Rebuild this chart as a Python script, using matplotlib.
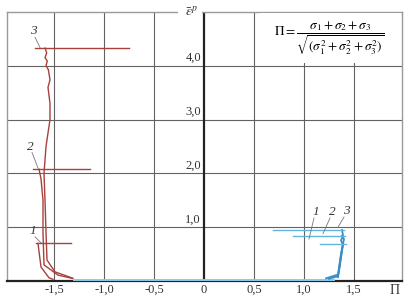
import matplotlib
matplotlib.use("Agg")
import matplotlib.pyplot as plt
from matplotlib.patches import Rectangle

plt.rcParams["font.family"] = ["Liberation Serif", "DejaVu Serif"]
plt.rcParams["mathtext.fontset"] = "stix"

# --- data ------------------------------------------------------------------
# compression branch (red), loading paths then unloading segment
red_1_x = [-1.51, -1.55, -1.63, -1.65, -1.66]
red_1_y = [0.03, 0.06, 0.26, 0.55, 0.70]
red_2_x = [-1.32, -1.46, -1.60, -1.61, -1.61, -1.63, -1.65]
red_2_y = [0.05, 0.11, 0.30, 0.90, 1.50, 1.90, 2.08]
red_3_x = [-1.31, -1.49, -1.57, -1.58, -1.59, -1.60, -1.58, -1.54, -1.54,
           -1.56, -1.54, -1.557, -1.58, -1.567, -1.59, -1.573, -1.59]
red_3_y = [0.05, 0.17, 0.39, 0.90, 1.50, 2.00, 2.50, 3.00, 3.30,
           3.60, 3.74, 3.93, 4.00, 4.09, 4.15, 4.24, 4.33]
red_unload_y = [0.70, 2.08, 4.33]
red_unload_x0 = [-1.68, -1.71, -1.69]
red_unload_x1 = [-1.33, -1.14, -0.75]

# tension branch (blue)
blue_1_x = [1.22, 1.34, 1.37, 1.39, 1.37, 1.39, 1.38]
blue_1_y = [0.05, 0.12, 0.50, 0.68, 0.75, 0.85, 0.95]
blue_2_x = [1.25, 1.34, 1.38, 1.40, 1.38]
blue_2_y = [0.04, 0.09, 0.60, 0.78, 0.84]
blue_3_x = [1.34, 1.36, 1.39]
blue_3_y = [0.07, 0.30, 0.68]
blue_unload_y = [0.95, 0.84, 0.68]
blue_unload_x0 = [1.40, 1.41, 1.42]
blue_unload_x1 = [0.69, 0.89, 1.16]

x_ticks = [-1.5, -1.0, -0.5, 0.0, 0.5, 1.0, 1.5]
x_tick_labels = ["-1,5", "-1,0", "-0,5", "0", "0,5", "1,0", "1,5"]
y_ticks = [1.0, 2.0, 3.0, 4.0]
y_tick_labels = ["1,0", "2,0", "3,0", "4,0"]

curve_labels = ["1", "2", "3"]
red_label_xy = [(-1.71, 0.93), (-1.74, 2.50), (-1.71, 4.64)]
red_leader_end = [(-1.63, 0.71), (-1.66, 2.10), (-1.64, 4.34)]
blue_label_xy = [(1.12, 1.28), (1.28, 1.28), (1.42, 1.30)]
blue_leader_end = [(1.05, 0.78), (1.19, 0.88), (1.34, 1.00)]

RED = "#a8403c"
BLUE = "#3a8ec8"
BLUE_LIGHT = "#62b6de"
GRID = "#626262"
FRAME = "#9a9a9a"

fig = plt.figure(figsize=(4.1, 3.0), dpi=100)
ax = fig.add_axes([7 / 410, 1 - 281 / 300, 395 / 410, 269 / 300])
ax.set_xlim(-1.97, 1.98)
ax.set_ylim(0, 5.0)
ax.set_xticks([])
ax.set_yticks([])

for side in ("left", "right", "top"):
    ax.spines[side].set_color(FRAME)
    ax.spines[side].set_linewidth(1.0)
ax.spines["bottom"].set_color("#222222")
ax.spines["bottom"].set_linewidth(1.6)

# grid
for xv in x_ticks:
    if xv != 0:
        ax.axvline(xv, color=GRID, lw=0.8, zorder=1)
for yv in y_ticks:
    ax.axhline(yv, color=GRID, lw=0.8, zorder=1)
ax.axvline(0, color="#222222", lw=1.6, zorder=2)

# formula box masks the grid in the top-right corner
ax.add_patch(Rectangle((0.56, 4.06), 1.41, 0.93, facecolor="white",
                       edgecolor="none", zorder=3))
ax.text(1.25, 4.52,
        r"$\Pi=\dfrac{\sigma_1+\sigma_2+\sigma_3}"
        r"{\sqrt{(\sigma_1^2+\sigma_2^2+\sigma_3^2)}}$",
        ha="center", va="center", fontsize=9.5, zorder=4)

# axis label at the top, breaking the frame line
ax.add_patch(Rectangle((-0.26, 4.93), 0.245, 0.14, facecolor="white",
                       edgecolor="none", zorder=5, clip_on=False))
ax.text(-0.13, 5.0, r"$\bar{\varepsilon}^{p}$", ha="center", va="center",
        fontsize=10, color="#333333", zorder=6, clip_on=False)

# tick labels
for xv, lab in zip(x_ticks, x_tick_labels):
    ax.text(xv, -0.17, lab, ha="center", va="center", fontsize=9,
            color="#333333", clip_on=False)
ax.text(1.91, -0.17, "П", ha="center", va="center", fontsize=10,
        color="#333333", clip_on=False)
for yv, lab in zip(y_ticks, y_tick_labels):
    ax.text(-0.03, yv + 0.03, lab, ha="right", va="bottom", fontsize=9,
            color="#333333")

# blue strip just above the abscissa
ax.plot([-1.30, 1.30], [0.015, 0.015], color="#8ccbe8", lw=1.4, zorder=3)

# red curves
for xs, ys in ((red_1_x, red_1_y), (red_2_x, red_2_y), (red_3_x, red_3_y)):
    ax.plot(xs, ys, color=RED, lw=1.0, zorder=4)
for y, x0, x1 in zip(red_unload_y, red_unload_x0, red_unload_x1):
    ax.plot([x0, x1], [y, y], color=RED, lw=1.0, zorder=4)

# blue curves
for xs, ys in ((blue_1_x, blue_1_y), (blue_2_x, blue_2_y), (blue_3_x, blue_3_y)):
    ax.plot(xs, ys, color=BLUE, lw=1.3, zorder=4)
for y, x0, x1 in zip(blue_unload_y, blue_unload_x0, blue_unload_x1):
    ax.plot([x0, x1], [y, y], color=BLUE_LIGHT, lw=1.0, zorder=4)

# curve numbers with leader lines
for lab, (lx, ly), (ex, ey) in zip(curve_labels, red_label_xy, red_leader_end):
    ax.text(lx, ly, lab, ha="center", va="center", fontsize=9.5,
            style="italic", color="#333333")
    ax.plot([lx + 0.02, ex], [ly - 0.11, ey], color="#777777", lw=0.6, zorder=4)
for lab, (lx, ly), (ex, ey) in zip(curve_labels, blue_label_xy, blue_leader_end):
    ax.text(lx, ly, lab, ha="center", va="center", fontsize=9.5,
            style="italic", color="#333333")
    ax.plot([lx - 0.02, ex], [ly - 0.11, ey], color="#777777", lw=0.6, zorder=4)

fig.savefig("out.png", dpi=100, facecolor="white")
